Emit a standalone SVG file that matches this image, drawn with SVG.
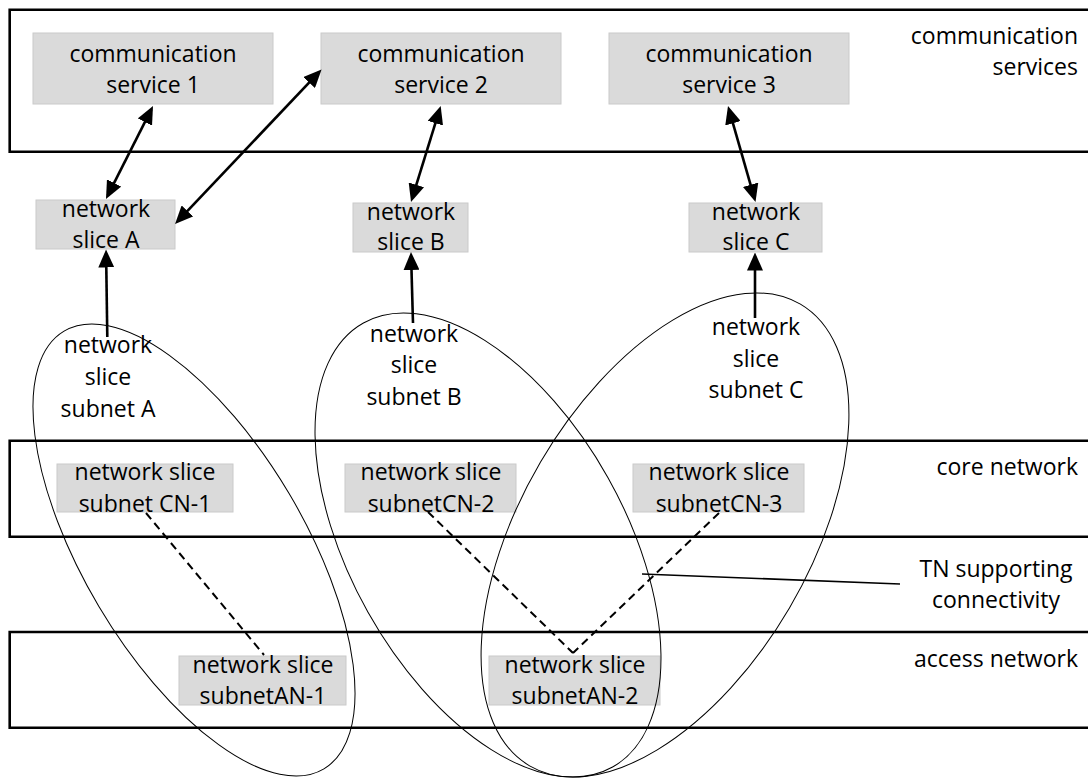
<svg xmlns="http://www.w3.org/2000/svg" width="1088" height="778" viewBox="0 0 1088 778">
<style>
.band{fill:none;stroke:#000;stroke-width:2.6}
.box{fill:#dadada;stroke:#cacaca;stroke-width:1}
.t{font-family:"Open Sans","Noto Sans",sans-serif;font-size:23px;fill:#000;text-anchor:middle}
.te{font-family:"Open Sans","Noto Sans",sans-serif;font-size:23px;fill:#000;text-anchor:end}
.ell{fill:none;stroke:#000;stroke-width:1}
.arr{fill:none;stroke:#000;stroke-width:2.6}
.dash{fill:none;stroke:#000;stroke-width:2;stroke-dasharray:8 5}
.lead{fill:none;stroke:#000;stroke-width:1.6}
</style>
<defs>
<marker id="ah" viewBox="0 0 18 16" refX="14" refY="8" markerWidth="18" markerHeight="16" markerUnits="userSpaceOnUse" orient="auto-start-reverse">
<path d="M0,0 L18,8 L0,16 Z" fill="#000"/>
</marker>
</defs>
<rect width="1088" height="778" fill="#fff"/>

<g id="band-communication-services">
<path class="band" d="M1090,9.7 H9.7 V151.7 H1090"/>
<text class="te" x="1078" y="44">communication</text>
<text class="te" x="1078" y="75">services</text>
</g>
<g id="band-core-network">
<path class="band" d="M1090,440.7 H9.7 V536.7 H1090"/>
<text class="te" x="1078" y="475">core network</text>
</g>
<g id="band-access-network">
<path class="band" d="M1090,632 H9.7 V727.7 H1090"/>
<text class="te" x="1078" y="667">access network</text>
</g>

<g id="cs1"><rect class="box" x="33" y="33" width="240" height="71"/>
<text class="t" x="153" y="62">communication</text><text class="t" x="153" y="93">service 1</text></g>
<g id="cs2"><rect class="box" x="321" y="33" width="240" height="71"/>
<text class="t" x="441" y="62">communication</text><text class="t" x="441" y="93">service 2</text></g>
<g id="cs3"><rect class="box" x="609" y="33" width="240" height="71"/>
<text class="t" x="729" y="62">communication</text><text class="t" x="729" y="93">service 3</text></g>

<g id="slice-a"><rect class="box" x="36" y="200" width="139" height="49"/>
<text class="t" x="106" y="217">network</text><text class="t" x="106" y="248">slice A</text></g>
<g id="slice-b"><rect class="box" x="353" y="203" width="115" height="49"/>
<text class="t" x="411" y="220">network</text><text class="t" x="411" y="250">slice B</text></g>
<g id="slice-c"><rect class="box" x="689" y="203" width="133" height="49"/>
<text class="t" x="756" y="220">network</text><text class="t" x="756" y="250">slice C</text></g>

<g id="cn1"><rect class="box" x="57" y="464" width="176" height="48"/>
<text class="t" x="145" y="480">network slice</text><text class="t" x="145" y="512">subnet CN-1</text></g>
<g id="cn2"><rect class="box" x="345" y="464" width="171" height="48"/>
<text class="t" x="431" y="480">network slice</text><text class="t" x="431" y="512">subnetCN-2</text></g>
<g id="cn3"><rect class="box" x="633" y="464" width="171" height="48"/>
<text class="t" x="719" y="480">network slice</text><text class="t" x="719" y="512">subnetCN-3</text></g>

<g id="an1"><rect class="box" x="179" y="656" width="167" height="49"/>
<text class="t" x="263" y="673">network slice</text><text class="t" x="263" y="704">subnetAN-1</text></g>
<g id="an2"><rect class="box" x="489" y="656" width="171" height="49"/>
<text class="t" x="575" y="673">network slice</text><text class="t" x="575" y="704">subnetAN-2</text></g>

<g id="subnet-a">
<ellipse class="ell" cx="194" cy="550" rx="254.5" ry="110.6" transform="rotate(59.3 194 550)"/>
<text class="t" x="108" y="353">network</text><text class="t" x="108" y="385">slice</text><text class="t" x="108" y="417">subnet A</text>
</g>
<g id="subnet-b">
<ellipse class="ell" cx="488" cy="545" rx="254.6" ry="137.6" transform="rotate(60.7 488 545)"/>
<text class="t" x="414" y="342">network</text><text class="t" x="414" y="373">slice</text><text class="t" x="414" y="405">subnet B</text>
</g>
<g id="subnet-c">
<ellipse class="ell" cx="665" cy="535" rx="267.6" ry="144.3" transform="rotate(-59.6 665 535)"/>
<text class="t" x="756" y="335">network</text><text class="t" x="756" y="367">slice</text><text class="t" x="756" y="398">subnet C</text>
</g>

<g id="tn-label">
<text class="t" x="996" y="577">TN supporting</text>
<text class="t" x="996" y="608">connectivity</text>
</g>

<g id="connectors">
<line class="arr" x1="151.2" y1="109.6" x2="107.8" y2="195.4" marker-start="url(#ah)" marker-end="url(#ah)"/>
<line class="arr" x1="318.8" y1="72.4" x2="177.8" y2="221.1" marker-start="url(#ah)" marker-end="url(#ah)"/>
<line class="arr" x1="439.5" y1="109.8" x2="412.2" y2="198.2" marker-start="url(#ah)" marker-end="url(#ah)"/>
<line class="arr" x1="729.1" y1="109.8" x2="754.4" y2="198.2" marker-start="url(#ah)" marker-end="url(#ah)"/>
<line class="arr" x1="107.3" y1="337" x2="106.1" y2="253.5" marker-end="url(#ah)"/>
<line class="arr" x1="413" y1="323" x2="411.1" y2="256" marker-end="url(#ah)"/>
<line class="arr" x1="755" y1="318" x2="755" y2="256.5" marker-end="url(#ah)"/>
<line class="dash" x1="146" y1="513" x2="264" y2="655"/>
<line class="dash" x1="428" y1="512" x2="573" y2="653"/>
<line class="dash" x1="719" y1="513" x2="573" y2="653"/>
<line class="lead" x1="642" y1="574" x2="900" y2="584"/>
</g>
</svg>
